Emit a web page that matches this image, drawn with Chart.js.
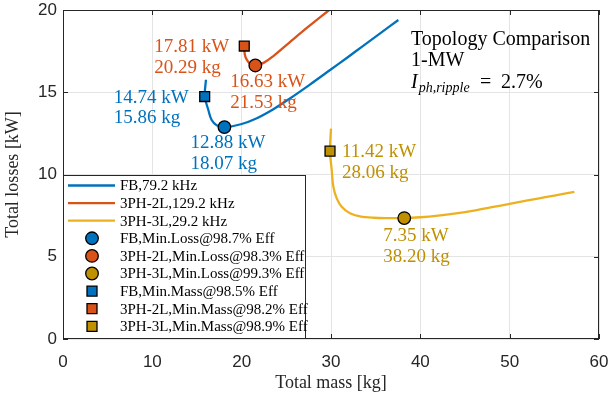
<!DOCTYPE html>
<html>
<head>
<meta charset="utf-8">
<script src="https://cdn.jsdelivr.net/npm/chart.js@4/dist/chart.umd.min.js"></script>
<style>
  body { margin: 0; background: #fff; }
  canvas { display: block; }
</style>
</head>
<body>
<canvas id="myChart" width="608" height="397"></canvas>
<script>
// curves: total mass [kg] vs total losses [kW]
const massFB = [16.0, 15.88, 16.27, 16.64, 17.2, 18.07, 20.0, 21.7, 23.5, 25.4, 27.6, 29.9, 31.8, 33.6, 35.5, 37.54]
const lossFB = [15.76, 14.74, 13.92, 13.31, 13.0, 12.88, 13.07, 13.42, 13.95, 14.62, 15.45, 16.35, 17.1, 17.82, 18.58, 19.39]

const mass2L = [20.29, 20.35, 20.6, 21.0, 21.53, 22.5, 23.55, 25.4, 27.5, 29.8]
const loss2L = [17.81, 17.3, 16.95, 16.72, 16.63, 16.8, 17.2, 18.05, 19.0, 20.0]

const mass3L = [30.0, 29.89, 30.08, 30.26, 30.64, 31.2, 32.13, 33.25, 34.74, 36.5, 38.2, 40.0, 42.0, 44.0, 46.0, 48.0, 50.0, 52.0, 54.0, 56.0, 57.24]
const loss3L = [12.79, 11.42, 10.27, 9.26, 8.55, 8.04, 7.64, 7.45, 7.37, 7.35, 7.35, 7.4, 7.5, 7.64, 7.81, 8.01, 8.22, 8.42, 8.62, 8.82, 8.95]

// optimum points (FB, 3PH-2L, 3PH-3L)
const minLossMass = [18.07, 21.53, 38.20]
const minLossKW = [12.88, 16.63, 7.35]
const minMassMass = [15.86, 20.29, 29.89]
const minMassKW = [14.74, 17.81, 11.42]

const lineNames = ['FB,79.2 kHz', '3PH-2L,129.2 kHz', '3PH-3L,29.2 kHz']
const minLossNames = ['FB,Min.Loss@98.7% Eff', '3PH-2L,Min.Loss@98.3% Eff', '3PH-3L,Min.Loss@99.3% Eff']
const minMassNames = ['FB,Min.Mass@98.5% Eff', '3PH-2L,Min.Mass@98.2% Eff', '3PH-3L,Min.Mass@98.9% Eff']

const minLossText = [['12.88 kW', '18.07 kg'], ['16.63 kW', '21.53 kg'], ['7.35 kW', '38.20 kg']]
const minMassText = [['14.74 kW', '15.86 kg'], ['17.81 kW', '20.29 kg'], ['11.42 kW', '28.06 kg']]

const xTicks = [0, 10, 20, 30, 40, 50, 60]
const yTicks = [0, 5, 10, 15, 20]

const lineColors = ['#0072BD', '#D95319', '#EDB120']
const markColors = ['#0072BD', '#D95319', '#BF9000']
const textColors = ['#0072BD', '#D95319', '#BF9000']

// label offsets (px) from marker
const lossOffsets = [[-34, 16], [-25, 17], [-21, 18]]
const massOffsets = [[-91, 1], [-90, 1], [12, 1]]

const serif = '"Liberation Serif", "Times New Roman", serif'
const sans = '"Liberation Sans", Arial, sans-serif'

function pts(xs, ys) {
    return xs.map((x, i) => ({ x: x, y: ys[i] }))
}

let datasets = []
let curves = [[massFB, lossFB], [mass2L, loss2L], [mass3L, loss3L]]
curves.forEach((c, i) => {
    datasets.push({
        label: lineNames[i],
        data: pts(c[0], c[1]),
        showLine: true,
        borderColor: lineColors[i],
        borderWidth: 2.3,
        pointRadius: 0,
        tension: 0.35,
        order: 1,
        kind: 'line'
    })
})
for (let i = 0; i < 3; i++) {
    datasets.push({
        label: minLossNames[i],
        data: [{ x: minLossMass[i], y: minLossKW[i] }],
        pointStyle: 'circle',
        pointRadius: 6.3,
        backgroundColor: markColors[i],
        borderColor: '#000',
        borderWidth: 1.3,
        order: 0,
        kind: 'circle'
    })
}
for (let i = 0; i < 3; i++) {
    datasets.push({
        label: minMassNames[i],
        data: [{ x: minMassMass[i], y: minMassKW[i] }],
        pointStyle: 'rect',
        pointRadius: 7,
        backgroundColor: markColors[i],
        borderColor: '#000',
        borderWidth: 1.3,
        order: 0,
        kind: 'rect'
    })
}

const decorPlugin = {
    id: 'decor',
    afterDraw(chart) {
        const c = chart.ctx
        const a = chart.chartArea
        const xs = chart.scales.x
        const ys = chart.scales.y
        c.save()

        // box + inside ticks
        c.strokeStyle = '#262626'
        c.lineWidth = 1
        c.strokeRect(a.left + 0.5, a.top + 0.5, a.right - a.left - 1, a.bottom - a.top - 1)
        c.beginPath()
        xTicks.forEach(v => {
            let px = Math.round(xs.getPixelForValue(v)) + 0.5
            c.moveTo(px, a.bottom); c.lineTo(px, a.bottom - 5)
            c.moveTo(px, a.top); c.lineTo(px, a.top + 5)
        })
        yTicks.forEach(v => {
            let py = Math.round(ys.getPixelForValue(v)) + 0.5
            c.moveTo(a.left, py); c.lineTo(a.left + 5, py)
            c.moveTo(a.right, py); c.lineTo(a.right - 5, py)
        })
        c.stroke()

        // callouts
        c.font = '19px ' + serif
        c.textAlign = 'left'
        c.textBaseline = 'middle'
        for (let i = 0; i < 3; i++) {
            c.fillStyle = textColors[i]
            let px = xs.getPixelForValue(minLossMass[i])
            let py = ys.getPixelForValue(minLossKW[i])
            c.fillText(minLossText[i][0], px + lossOffsets[i][0], py + lossOffsets[i][1])
            c.fillText(minLossText[i][1], px + lossOffsets[i][0], py + lossOffsets[i][1] + 20.5)
            px = xs.getPixelForValue(minMassMass[i])
            py = ys.getPixelForValue(minMassKW[i])
            c.fillText(minMassText[i][0], px + massOffsets[i][0], py + massOffsets[i][1])
            c.fillText(minMassText[i][1], px + massOffsets[i][0], py + massOffsets[i][1] + 20.5)
        }

        // title block
        c.fillStyle = '#000'
        c.font = '20px ' + serif
        c.fillText('Topology Comparison', 411, 40)
        c.fillText('1-MW', 411, 61)
        c.textBaseline = 'alphabetic'
        c.font = 'italic 20px ' + serif
        c.fillText('I', 411, 88)
        let w = c.measureText('I').width
        c.font = 'italic 14px ' + serif
        c.fillText('ph,ripple', 411 + w + 1, 92)
        c.font = '20px ' + serif
        c.fillText('=', 480, 88)
        c.fillText('2.7%', 501, 88)

        // legend box
        const lx = a.left, ly = a.bottom - 164, lw = 243, lh = 164
        c.fillStyle = '#fff'
        c.fillRect(lx, ly, lw, lh)
        c.strokeStyle = '#262626'
        c.strokeRect(lx + 0.5, ly + 0.5, lw - 1, lh - 1)
        c.font = '15px ' + serif
        c.textBaseline = 'middle'
        chart.data.datasets.forEach((d, i) => {
            let ry = ly + 10.5 + i * 17.6
            if (d.kind === 'line') {
                c.strokeStyle = d.borderColor
                c.lineWidth = 2.3
                c.beginPath()
                c.moveTo(lx + 5, ry); c.lineTo(lx + 52, ry)
                c.stroke()
            } else {
                c.fillStyle = d.backgroundColor
                c.strokeStyle = '#000'
                c.lineWidth = 1.3
                c.beginPath()
                if (d.kind === 'circle') {
                    c.arc(lx + 29, ry, 6.3, 0, Math.PI * 2)
                } else {
                    c.rect(lx + 24, ry - 5, 10, 10)
                }
                c.fill()
                c.stroke()
            }
            c.fillStyle = '#000'
            c.fillText(d.label, lx + 57, ry + 1)
        })
        c.restore()
    }
}

const ctx = document.getElementById('myChart').getContext('2d')
let myChart = new Chart(ctx, {
    type: 'scatter',
    data: { datasets: datasets },
    options: {
        responsive: false,
        animation: false,
        events: [],
        layout: { padding: { top: 10, right: 9, left: 0, bottom: 0 } },
        plugins: { legend: { display: false }, tooltip: { enabled: false } },
        scales: {
            x: {
                type: 'linear', min: 0, max: 60,
                afterFit: s => { s.height = 58; s.paddingLeft = 0; s.paddingRight = 0 },
                afterBuildTicks: s => { s.ticks = xTicks.map(v => ({ value: v })) },
                ticks: { color: '#262626', font: { family: sans, size: 17 }, padding: 13, maxRotation: 0 },
                grid: { color: '#e4e4e4', drawTicks: false },
                border: { display: false },
                title: { display: true, text: 'Total mass [kg]', color: '#262626', font: { family: serif, size: 18 }, padding: { top: 0, bottom: 3 } }
            },
            y: {
                type: 'linear', min: 0, max: 20,
                afterFit: s => { s.width = 63; s.paddingTop = 0; s.paddingBottom = 0 },
                afterBuildTicks: s => { s.ticks = yTicks.map(v => ({ value: v })) },
                ticks: { color: '#262626', font: { family: sans, size: 17 }, padding: 6 },
                grid: { color: '#e4e4e4', drawTicks: false },
                border: { display: false },
                title: { display: true, text: 'Total losses [kW]', color: '#262626', font: { family: serif, size: 18 }, padding: { top: 2, bottom: 0 } }
            }
        }
    },
    plugins: [decorPlugin]
})
</script>
</body>
</html>
